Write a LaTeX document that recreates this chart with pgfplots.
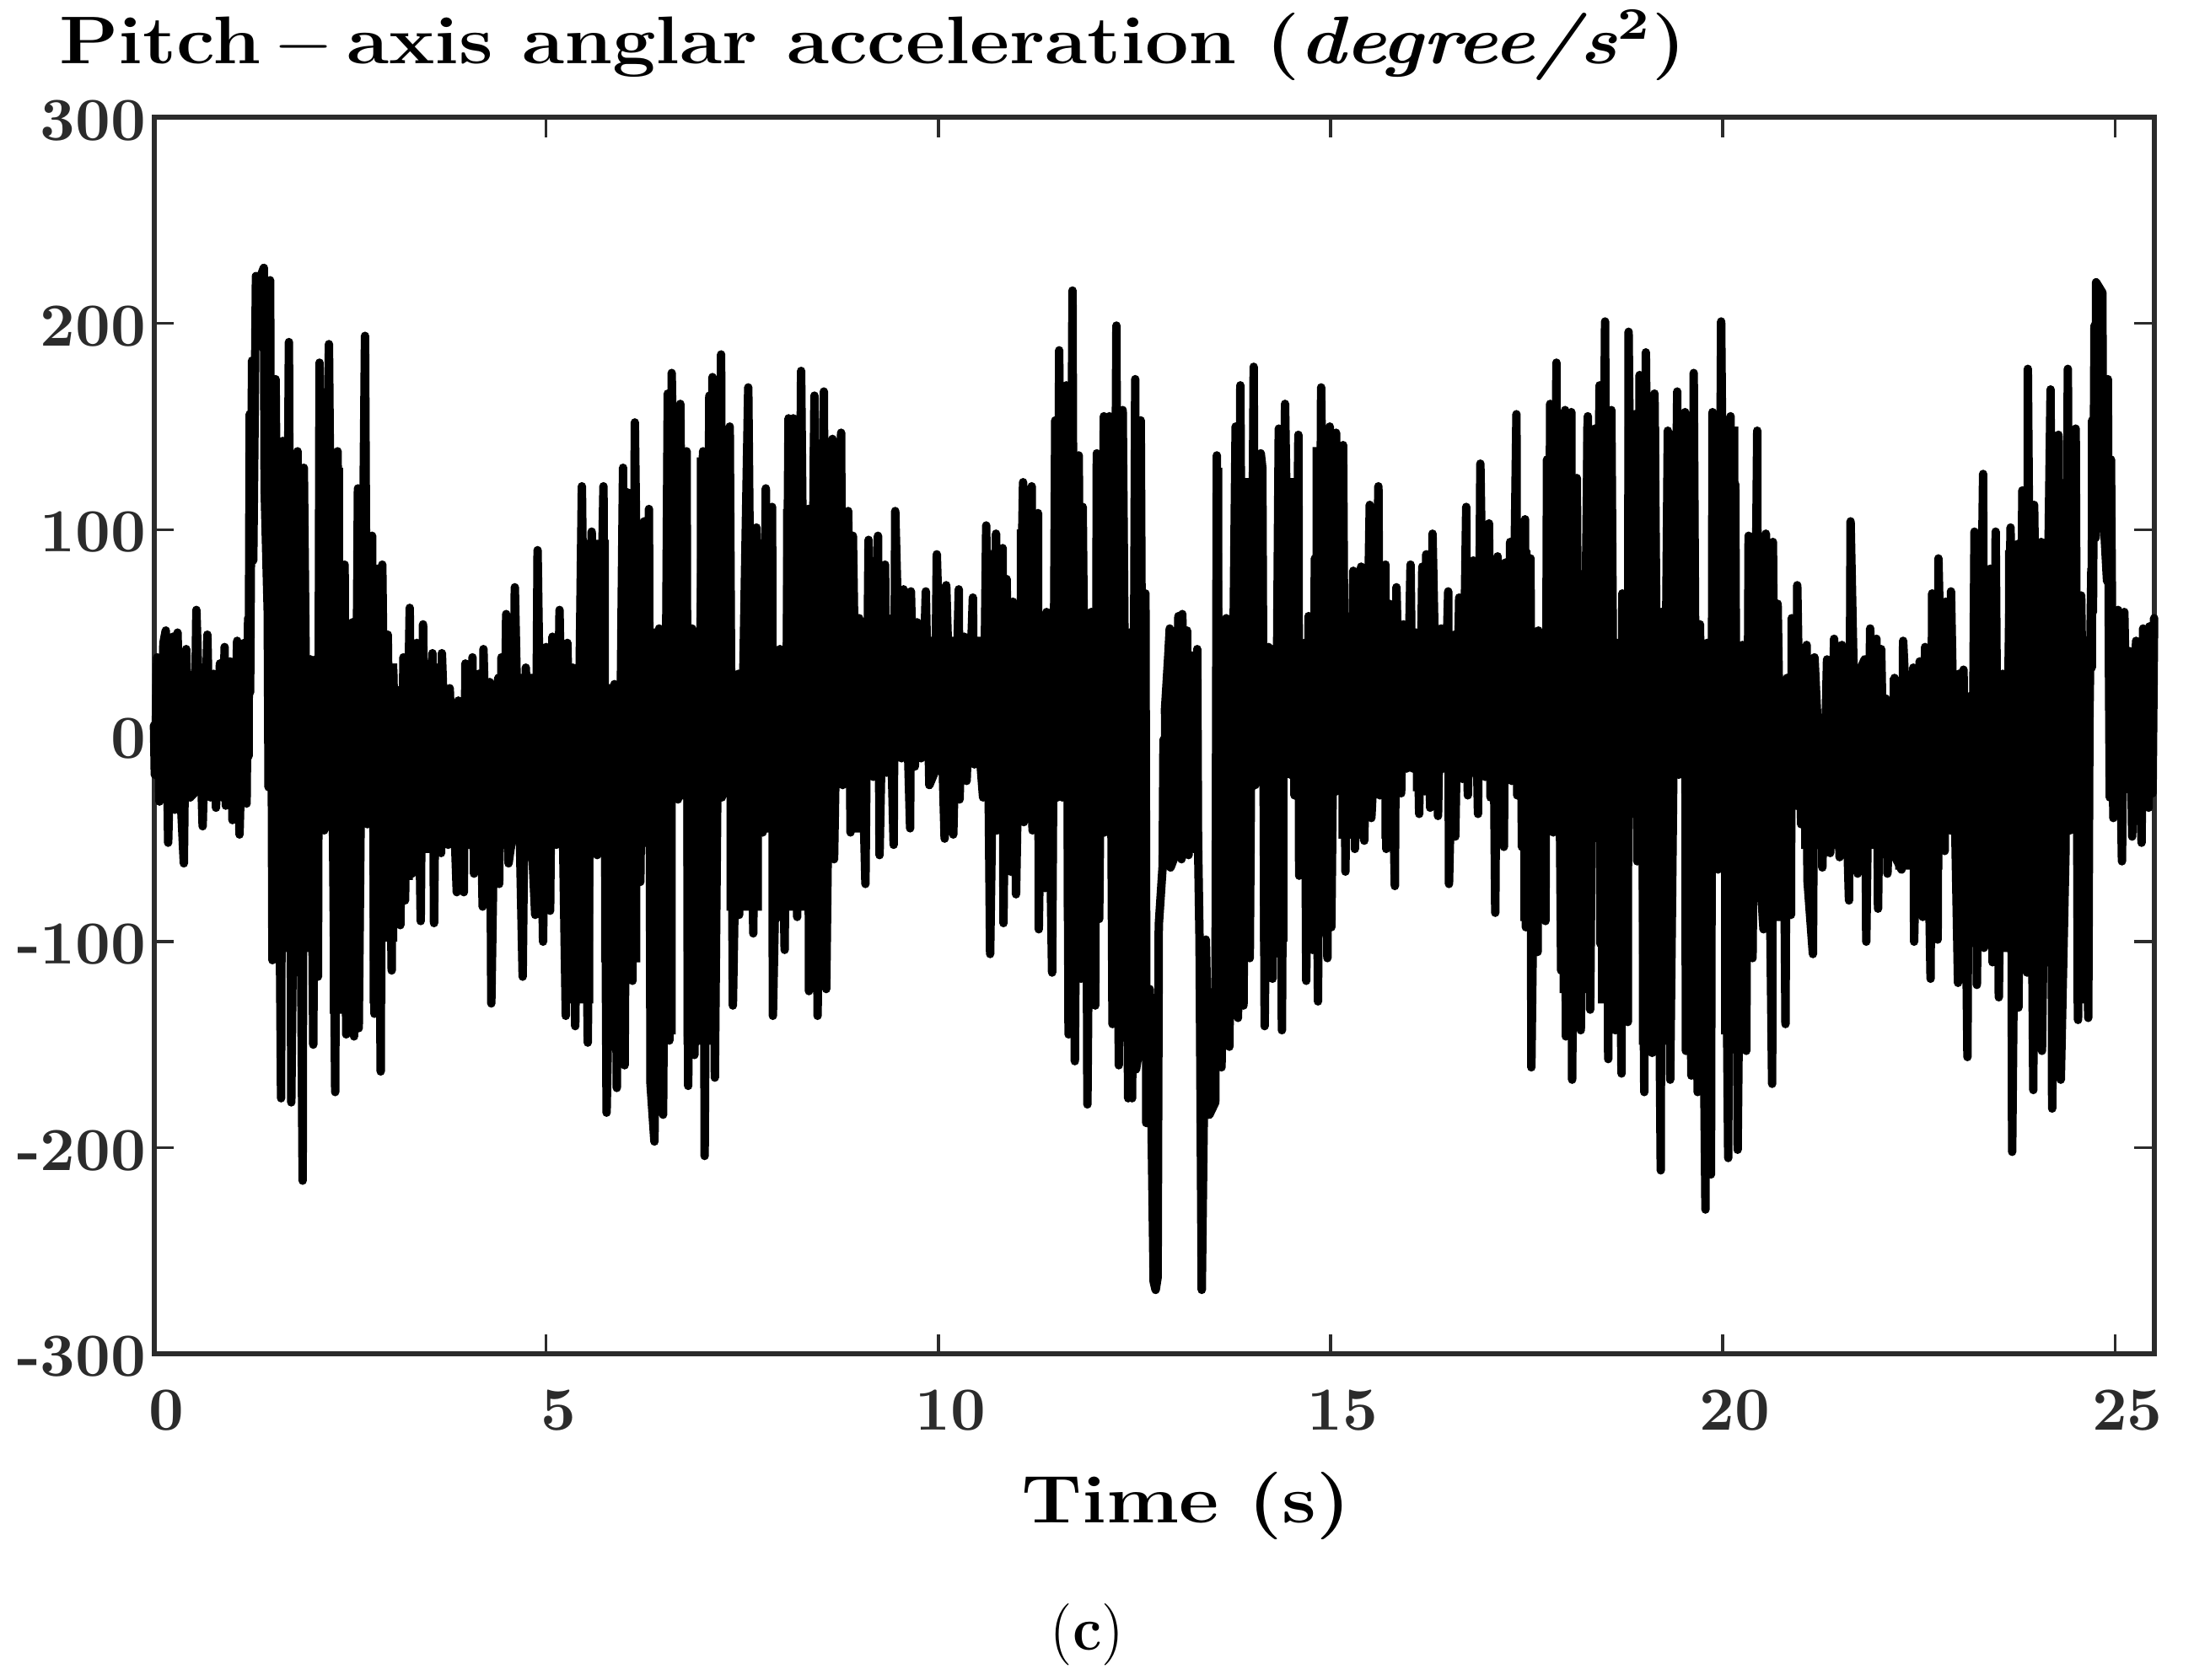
\documentclass[border=0pt]{standalone}
\usepackage{fontspec}
\usepackage{graphicx}
\usepackage{pgfplots}
\pgfplotsset{compat=1.18}
\definecolor{axisgray}{HTML}{2B2B2B}
\begin{document}
\begin{tikzpicture}
\useasboundingbox (-27.4pt,-58.05pt) rectangle (362.9pt,240.9pt);
\begin{axis}[
    at={(0pt,0pt)}, anchor=south west,
    scale only axis, width=355.8pt, height=220pt,
    xmin=0, xmax=25.5, ymin=-300, ymax=300,
    xtick={0,5,10,15,20,25}, xticklabels={0,5,10,15,20,25},
    ytick={-300,-200,-100,0,100,200,300},
    yticklabels={-300,-200,-100,0,100,200,300},
    tick align=inside, tick pos=both,
    major tick length=3.5pt,
    axis line style={color=axisgray, line width=0.9pt},
    every tick/.style={color=axisgray, line width=0.5pt},
    tick label style={font=\fontsize{10.9}{12}\selectfont\bfseries, text=axisgray},
    xticklabel style={inner sep=0pt, anchor=base, yshift=-13.65pt, xshift=2.2pt},
    yticklabel style={inner sep=0pt, xshift=-1.2pt, yshift=-0.5pt},
    clip=false, axis on top=false,
    every axis title shift=0pt,
    title={\scalebox{1.144}[1]{\fontsize{12}{14}\selectfont\bfseries Pitch\,$-$\,axis anglar acceleration (\textit{degree/s}\textsuperscript{2})}},
    title style={at={(rel axis cs:-0.048,1.0432)}, anchor=base west, inner sep=0pt},
    xlabel={\scalebox{1.15}[1]{\fontsize{12}{14}\selectfont\bfseries Time (s)}},
    xlabel style={at={(rel axis cs:0.516,-0.137)}, anchor=base, inner sep=0pt},
  ]
  % solid black core of the trace: what the reference shows filled between the spikes
  \addplot[black, fill=black, draw=none] coordinates {(0,25) (1.2,25) (1.2,-20) (0,-20)};
  \addplot[black, fill=black, draw=none] coordinates {
    (1.47,125) (1.96,125) (1.96,37) (2.09,37) (2.09,130) (2.41,130) (2.41,35) (2.5,35) (2.5,55) (2.62,55) (2.62,83) (2.9,83) (2.9,35) (3.1,35) (3.1,22) (3.3,22) (3.3,35) (3.7,35) (3.7,17) (4.0,17) (4.0,25) (4.6,25) (4.6,30) (5.41,30) (5.41,95) (5.8,95) (5.8,25) (5.93,25) (5.93,100) (6.34,100) (6.34,52) (6.5,52) (6.5,135) (6.78,135) (6.78,52) (6.92,52) (6.92,135) (7.32,135) (7.32,30) (7.5,30) (7.5,95) (7.87,95) (7.87,42) (8.02,42) (8.02,110) (8.36,110) (8.36,140) (8.65,140) (8.65,55) (9.5,55) (9.5,48) (10.58,48) (10.58,90) (10.85,90) (10.85,55) (11.0,55) (11.0,100) (11.3,100) (11.3,42) (11.47,42) (11.47,108) (11.85,108) (11.85,43) (11.98,43) (11.98,130) (12.40,130) (12.40,50) (12.46,50) (12.46,130) (12.6,130)
    (12.6,-135) (12.2,-135) (12.2,-21) (12.14,-21) (12.14,-47) (11.98,-47) (11.98,-90) (11.6,-90) (11.6,-21) (10.6,-21) (10.6,-11) (9.3,-11) (9.3,-18) (9.0,-18) (9.0,-47) (8.85,-47) (8.85,-24) (8.72,-24) (8.72,-60) (8.6,-60) (8.6,-85) (8.0,-85) (8.0,-90) (7.85,-90) (7.85,-47) (7.75,-47) (7.75,-85) (7.3,-85) (7.3,-30) (7.2,-30) (7.2,-150) (6.75,-150) (6.75,-31) (6.65,-31) (6.65,-145) (6.3,-145) (6.3,-52) (6.2,-52) (6.2,-110) (5.7,-110) (5.7,-58) (5.6,-58) (5.6,-130) (5.2,-130) (5.2,-53) (5.1,-53) (5.1,-55) (4.75,-55) (4.75,-48) (4.6,-48) (4.6,-55) (4.0,-55) (4.0,-50) (3.7,-50) (3.7,-57) (3.3,-57) (3.3,-70) (3.1,-70) (3.1,-100) (2.95,-100) (2.95,-130) (2.75,-130) (2.75,-43) (2.65,-43) (2.65,-135) (2.24,-135) (2.24,-46) (2.14,-46) (2.14,-105) (1.47,-105)
  };
  \addplot[black, fill=black, draw=none] coordinates {(12.87,5) (13.28,5) (13.28,-35) (12.87,-35)};
  \addplot[black, fill=black, draw=none] coordinates {
    (13.52,130) (13.62,130) (13.62,57) (13.76,57) (13.76,125) (14.18,125) (14.18,42) (14.3,42) (14.3,125) (14.62,125) (14.62,45) (14.77,45) (14.77,140) (15.2,140) (15.2,58) (15.6,58) (15.6,62) (15.75,62) (15.75,50) (16.6,50) (16.6,65) (17.33,65) (17.33,90) (17.55,90) (17.55,50) (17.72,50) (17.72,125) (18.16,125) (18.16,42) (18.22,42) (18.22,150) (18.6,150) (18.6,45) (18.68,45) (18.68,69) (18.75,69) (18.75,150) (19.19,150) (19.19,59) (19.26,59) (19.26,148) (19.67,148) (19.67,45) (19.83,45) (19.83,150) (20.2,150) (20.2,44) (20.3,44) (20.3,95) (20.62,95) (20.62,20) (20.8,20) (20.8,28) (21.0,28) (21.0,37) (21.22,37) (21.22,8) (21.3,8) (21.3,37) (21.6,37) (21.6,31) (22.05,31) (22.05,18) (22.13,18) (22.13,28) (22.65,28) (22.65,65) (22.92,65) (22.92,19) (23.16,19) (23.16,80) (23.53,80) (23.53,30) (23.6,30) (23.6,90) (24.55,90) (24.55,31) (24.66,31)
    (24.66,-130) (24.47,-130) (24.47,-46) (24.35,-46) (24.35,-110) (23.75,-110) (23.75,-105) (23.41,-105) (23.41,-46) (23.35,-46) (23.35,-100) (22.95,-100) (22.95,-46) (22.8,-46) (22.8,-65) (22.2,-65) (22.2,-59) (21.95,-59) (21.95,-55) (21.0,-55) (21.0,-34) (20.84,-34) (20.84,-90) (20.46,-90) (20.46,-50) (20.33,-50) (20.33,-145) (19.98,-145) (19.98,-65) (19.88,-65) (19.88,-150) (19.5,-150) (19.5,-19) (19.38,-19) (19.38,-150) (18.93,-150) (18.93,-38) (18.83,-38) (18.83,-130) (18.41,-130) (18.41,-16) (18.35,-16) (18.35,-125) (17.92,-125) (17.92,-44) (17.7,-44) (17.7,-90) (17.42,-90) (17.42,-22) (17.24,-22) (17.24,-45) (17.07,-45) (17.07,-20) (16.55,-20) (16.55,-45) (16.47,-45) (16.47,-16) (16.4,-16) (16.4,-27) (16.05,-27) (16.05,-16) (15.85,-16) (15.85,-50) (15.65,-50) (15.65,-9) (15.53,-9) (15.53,-38) (15.45,-38) (15.45,-50) (15.1,-50) (15.1,-27) (15.0,-27) (15.0,-90) (14.65,-90) (14.65,-65) (14.56,-65) (14.56,-19) (14.45,-19) (14.45,-100) (14.1,-100) (14.1,-24) (13.97,-24) (13.97,-105) (13.82,-105) (13.82,-135) (13.7,-135) (13.7,-150) (13.52,-150)
  };
  \addplot[black, fill=black, draw=none] coordinates {(24.93,35) (25.5,35) (25.5,-28) (24.93,-28)};
  % the trace itself, peaks and troughs read off in time order
  \addplot[black, line width=1.5pt, line join=round, line cap=round, mark=none] coordinates {
    (0,5) (0.01,-19) (0.04,38) (0.07,-32) (0.12,45) (0.15,51) (0.18,-52) (0.24,48) (0.265,-36) (0.30,50) (0.34,-30) (0.38,-62) (0.41,42) (0.46,-30) (0.51,-28) (0.54,61) (0.62,-44) (0.68,49) (0.72,-30) (0.76,30) (0.79,-35) (0.84,35) (0.87,-30) (0.90,43) (0.915,-34) (0.97,36) (1.0,-41) (1.06,46) (1.09,-48) (1.15,45) (1.18,-33)
    (1.20,57) (1.205,-10) (1.22,156) (1.225,21) (1.25,182) (1.265,85) (1.30,223) (1.35,222) (1.40,227) (1.41,120) (1.45,60) (1.46,-25) (1.48,221) (1.51,-109) (1.55,173) (1.62,-176) (1.64,143) (1.68,-50) (1.72,191) (1.75,-178) (1.83,138) (1.895,-216) (1.91,130) (1.95,-30) (1.995,37) (2.03,-150) (2.06,37) (2.09,-117) (2.11,181) (2.17,-46) (2.23,190) (2.31,-173) (2.34,138) (2.40,-100) (2.43,83) (2.45,-145) (2.53,55) (2.55,-146) (2.60,120) (2.61,-142) (2.69,194) (2.72,-43) (2.78,97) (2.81,-135) (2.85,40) (2.89,-163) (2.91,83) (2.94,-20) (2.98,49)
    (3.03,-114) (3.05,32) (3.09,-40) (3.12,22) (3.14,-92) (3.18,38) (3.20,-80) (3.26,62) (3.29,-67) (3.35,45) (3.40,-90) (3.43,54) (3.45,-20) (3.47,35) (3.51,-20) (3.55,40) (3.57,-91) (3.60,25) (3.66,-57) (3.67,40) (3.75,-53) (3.77,23) (3.86,-76) (3.88,17) (3.95,-76) (3.97,35) (4.02,-30) (4.06,38) (4.08,-67) (4.14,30) (4.19,-83) (4.20,42) (4.24,-20) (4.28,26) (4.30,-130) (4.36,20) (4.39,28) (4.40,-72) (4.43,38) (4.46,-40) (4.49,59) (4.52,-62) (4.57,-48) (4.60,72) (4.70,-117) (4.74,33) (4.79,-30) (4.86,-87) (4.89,90) (4.96,-100) (5.0,43) (5.05,-85) (5.08,48) (5.13,-53) (5.17,61) (5.25,-136) (5.27,45) (5.31,-30) (5.34,33) (5.37,-141) (5.455,121) (5.53,-149) (5.58,99) (5.65,-58) (5.73,121) (5.77,-183) (5.87,25) (5.90,-171) (5.98,130)
    (6.0,-160) (6.04,118) (6.10,-119) (6.13,152) (6.20,-71) (6.25,104) (6.27,-52) (6.31,110) (6.33,-169) (6.38,-197) (6.44,52) (6.49,-184) (6.55,166) (6.57,-148) (6.60,176) (6.68,-31) (6.71,161) (6.75,-20) (6.79,138) (6.81,-170) (6.86,52) (6.89,-155) (7.0,138) (7.02,-204) (7.08,165) (7.10,-40) (7.12,174) (7.15,-166) (7.23,185) (7.24,-30) (7.34,150) (7.38,-131) (7.45,30) (7.46,-87) (7.576,169) (7.64,-96) (7.68,101) (7.72,-20) (7.76,-47) (7.80,120) (7.84,-20) (7.88,111) (7.89,-136) (7.98,42) (8.04,-104) (8.09,154) (8.12,-30) (8.15,154) (8.2,-88) (8.25,177) (8.30,-30) (8.34,110) (8.35,-124) (8.42,165) (8.46,-136) (8.54,167) (8.57,-123) (8.65,144) (8.67,-60) (8.76,147) (8.78,-24) (8.85,109) (8.88,-47) (8.91,97) (8.96,-30) (8.99,57)
    (9.07,-72) (9.11,95) (9.17,-20) (9.23,97) (9.25,-58) (9.32,83) (9.34,-18) (9.36,57) (9.43,-53) (9.45,109) (9.53,-11) (9.556,71) (9.64,-45) (9.65,70) (9.70,-15) (9.73,55) (9.78,-11) (9.84,70) (9.885,-24) (9.95,-18) (9.98,88) (10.08,-50) (10.1,73) (10.19,-48) (10.26,71) (10.27,-31) (10.33,48) (10.36,-22) (10.44,67) (10.46,-14) (10.50,30) (10.53,-10) (10.57,-30) (10.61,102) (10.66,-106) (10.735,98) (10.75,-46) (10.82,91) (10.83,-91) (10.87,76) (10.92,-66) (10.95,65) (10.99,-77) (11.08,123) (11.09,-42) (11.13,-21) (11.19,121) (11.20,-46) (11.27,108) (11.28,-94) (11.33,43) (11.36,-74) (11.38,60) (11.45,-115) (11.49,153) (11.52,-30) (11.54,187) (11.58,-30) (11.63,170) (11.66,-145) (11.71,216) (11.74,-158) (11.79,136) (11.82,-118) (11.84,111) (11.87,-20) (11.88,43) (11.90,-179) (11.95,60) (12.0,-131) (12.02,137) (12.05,-89) (12.11,155) (12.12,-47) (12.15,-21) (12.18,155) (12.22,-140) (12.27,199) (12.30,-160) (12.35,158) (12.42,-176) (12.44,50) (12.47,-176) (12.51,173) (12.52,-162) (12.57,-150) (12.58,153) (12.61,-100) (12.64,69)
    (12.65,-112) (12.65,-188) (12.695,-123) (12.72,-195) (12.745,-265) (12.77,-269) (12.795,-263) (12.81,-92) (12.86,-63) (12.87,-2) (12.90,-49) (12.89,13) (12.93,38) (12.95,52) (12.96,-64) (13.0,-60) (13.03,4) (13.06,58) (13.06,-37) (13.10,-60) (13.11,59) (13.14,-40) (13.17,51) (13.19,-58) (13.22,39) (13.24,18) (13.26,-55) (13.30,42) (13.31,-50) (13.33,-100) (13.358,-269) (13.41,-99) (13.455,-184) (13.53,-178)
    (13.55,136) (13.61,-161) (13.67,57) (13.71,-151) (13.79,150) (13.82,-137) (13.85,170) (13.89,-131) (13.94,122) (13.97,-108) (14.02,179) (14.04,-24) (14.11,137) (14.13,130) (14.16,-141) (14.21,43) (14.26,-118) (14.27,42) (14.29,-106) (14.34,149) (14.38,-143) (14.42,161) (14.49,-19) (14.51,123) (14.54,-29) (14.59,146) (14.60,-68) (14.67,45) (14.69,-119) (14.72,58) (14.77,-104) (14.80,86) (14.84,-129) (14.88,169) (14.96,-108) (14.99,150) (15.01,-93) (15.07,147) (15.08,-27) (15.16,141) (15.19,-66) (15.21,58) (15.25,-30) (15.29,80) (15.31,-55) (15.39,82) (15.43,-51) (15.50,112) (15.52,-40) (15.56,-9) (15.61,121) (15.63,-29) (15.70,83) (15.71,-55) (15.75,64) (15.82,-73) (15.84,72) (15.9,-28) (15.93,54) (15.97,-16)
    (16.02,83) (16.05,-16) (16.09,50) (16.13,-38) (16.17,82) (16.2,-27) (16.22,88) (16.27,-35) (16.30,98) (16.37,-39) (16.41,52) (16.44,-16) (16.50,70) (16.51,-72) (16.58,49) (16.59,-49) (16.64,67) (16.68,-21) (16.73,111) (16.75,-29) (16.82,85) (16.88,-38) (16.91,132) (16.97,-20) (17.02,103) (17.04,-30) (17.07,50) (17.10,-86) (17.13,87) (17.15,-10) (17.17,65) (17.21,-54) (17.23,84) (17.26,-10) (17.29,94) (17.31,-22) (17.37,156) (17.38,-29) (17.42,50) (17.44,-54) (17.48,105) (17.49,-93) (17.55,86) (17.56,-161) (17.60,-30) (17.64,-105) (17.65,51) (17.74,-90) (17.76,134) (17.78,-30) (17.80,161) (17.84,-47) (17.88,181) (17.89,-44) (17.91,30) (17.94,-114) (17.99,158) (18.0,-146) (18.07,157) (18.08,-167) (18.14,125) (18.16,-20) (18.18,43) (18.19,-143) (18.28,155) (18.31,-133) (18.37,149) (18.38,-16) (18.43,170) (18.44,-101) (18.50,201) (18.54,-157) (18.58,158) (18.63,-143) (18.65,45) (18.71,-164) (18.72,69) (18.79,-139) (18.80,196) (18.86,-38) (18.88,156) (18.91,-61) (18.94,175) (19.0,-173)
    (19.02,186) (19.1,-154) (19.13,166) (19.21,-211) (19.22,60) (19.26,-30) (19.30,148) (19.33,-167) (19.42,167) (19.44,-19) (19.52,157) (19.53,-153) (19.56,50) (19.6,-165) (19.63,176) (19.68,-173) (19.71,54) (19.78,-230) (19.80,45) (19.85,-213) (19.87,157) (19.94,-65) (19.98,201) (20.07,-205) (20.10,155) (20.13,-50) (20.16,122) (20.19,-201) (20.25,44) (20.3,-153) (20.33,97) (20.38,-108) (20.44,148) (20.45,-50) (20.52,-94) (20.55,98) (20.63,-169) (20.64,94) (20.67,-60) (20.70,64) (20.75,-60) (20.77,21) (20.8,-140) (20.82,28) (20.87,-87) (20.88,57) (20.94,-34) (20.95,73) (21.0,-43) (21.07,44) (21.08,-70) (21.15,-106) (21.17,38) (21.24,-20) (21.25,8) (21.27,-64) (21.33,37) (21.37,-57) (21.42,47) (21.49,-59) (21.52,44) (21.61,-80) (21.63,104) (21.72,-67) (21.74,31) (21.81,37) (21.83,-100) (21.88,52) (21.9,-30) (21.96,47) (21.98,-84) (22.02,42) (22.05,-20) (22.08,18) (22.1,-67) (22.19,28) (22.20,-59) (22.28,-65) (22.30,46) (22.38,-20) (22.43,33) (22.44,-100) (22.51,36) (22.55,-88) (22.58,43) (22.65,-118) (22.67,69) (22.74,-99) (22.75,86) (22.83,-56) (22.84,65) (22.90,-46) (22.91,70) (23.0,-120) (23.01,30) (23.05,-20) (23.07,32) (23.12,-156) (23.14,19) (23.18,-60) (23.21,99) (23.24,-121) (23.32,127) (23.33,-103) (23.38,-46) (23.41,81) (23.44,-110) (23.48,99) (23.52,-127) (23.57,30) (23.62,-30) (23.67,101) (23.69,-202) (23.76,93) (23.77,-132) (23.82,119) (23.88,-115) (23.89,178) (23.96,-172) (23.97,112) (24.02,-30) (24.06,94) (24.07,-153) (24.18,168) (24.2,-181) (24.28,146) (24.31,-167) (24.37,-56) (24.40,178) (24.43,-46) (24.50,149) (24.53,-138) (24.57,68) (24.60,-20) (24.62,32) (24.66,-137)
    (24.675,8) (24.70,81) (24.705,33) (24.71,153) (24.72,60) (24.74,199) (24.755,96) (24.76,220) (24.84,215) (24.85,110) (24.90,75) (24.91,173) (24.925,30) (24.935,-30) (24.95,134) (24.98,-40) (25.04,61) (25.09,-61) (25.12,60) (25.16,-20) (25.19,41) (25.22,-49) (25.27,46) (25.34,-52) (25.36,52) (25.43,-35) (25.44,53) (25.48,-28) (25.5,57)
  };
  \node[anchor=base, inner sep=0pt, font=\fontsize{11}{13}\selectfont] at (rel axis cs:0.4666,-0.24) {\scalebox{0.94}[1]{(\textbf{c})}};
\end{axis}
\end{tikzpicture}
\end{document}
